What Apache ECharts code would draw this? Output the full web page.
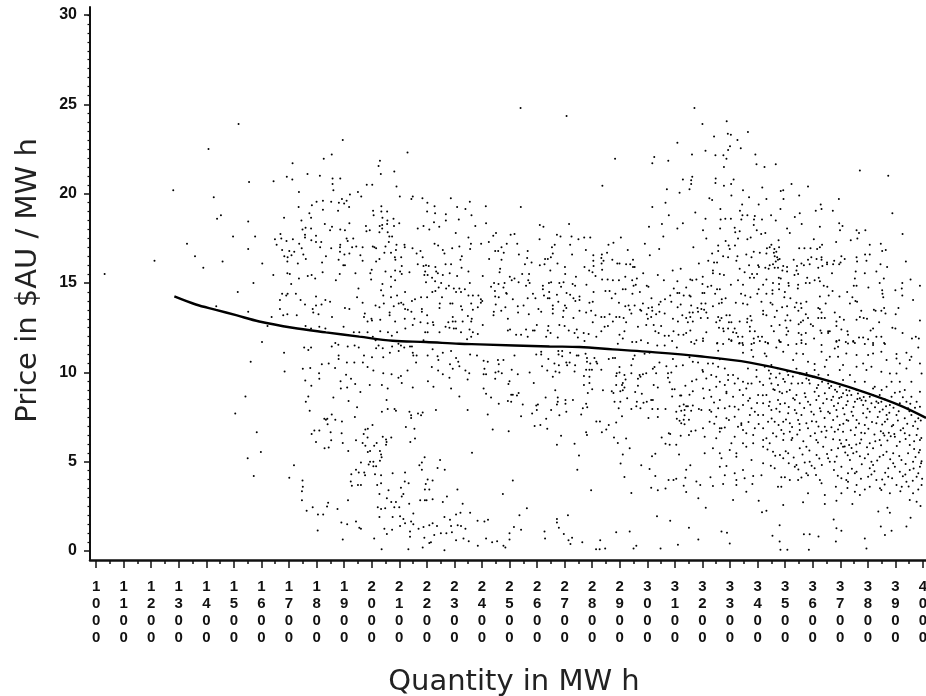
<!DOCTYPE html>
<html><head><meta charset="utf-8">
<style>html,body{margin:0;padding:0;background:#fff}#c{width:926px;height:696px}</style>
<script src="https://cdn.jsdelivr.net/npm/echarts@6/dist/echarts.min.js"></script>
</head><body><div id="c"></div>
<script>
const quantityTicks=[1000,1100,1200,1300,1400,1500,1600,1700,1800,1900,2000,2100,2200,2300,2400,2500,2600,2700,2800,2900,3000,3100,3200,3300,3400,3500,3600,3700,3800,3900,4000];
const quantityMinorTicks=[1050,1150,1250,1350,1450,1550,1650,1750,1850,1950,2050,2150,2250,2350,2450,2550,2650,2750,2850,2950,3050,3150,3250,3350,3450,3550,3650,3750,3850,3950];
const priceTicks=[0,5,10,15,20,25,30];
const priceMinorTicks=[0.5,1,1.5,2,2.5,3,3.5,4,4.5,5.5,6,6.5,7,7.5,8,8.5,9,9.5,10.5,11,11.5,12,12.5,13,13.5,14,14.5,15.5,16,16.5,17,17.5,18,18.5,19,19.5,20.5,21,21.5,22,22.5,23,23.5,24,24.5,25.5,26,26.5,27,27.5,28,28.5,29,29.5,30];
const fittedCurve=[[1284,14.25],[1362,13.8],[1435,13.5],[1508,13.2],[1592,12.85],[1713,12.5],[1834,12.24],[1955,12.0],[2076,11.77],[2197,11.7],[2318,11.6],[2391,11.57],[2645,11.45],[2754,11.42],[2875,11.29],[2996,11.16],[3190,10.9],[3372,10.55],[3553,9.95],[3674,9.45],[3795,8.85],[3916,8.15],[4011,7.45]];
const farLeftPoints=[[1517,23.9],[1408,22.5],[1280,20.2],[1555,20.65],[1427,19.8],[1439,18.6],[1453,18.8],[1552,18.45],[1497,17.6],[1577,17.6],[1330,17.2],[1552,16.9],[1359,16.5],[1212,16.25],[1459,16.2],[1389,15.85],[1031,15.5],[1571,15.0],[1514,14.5],[1436,13.7],[1552,13.4],[1561,10.6],[1542,8.65],[1505,7.7],[1583,6.65],[1550,5.2],[1572,4.2]];
const upperLeftPoints=[[1895,23.0],[2130,22.3],[1855,22.2],[1826,21.95],[2030,21.85],[1713,21.7],[2025,21.55],[2082,21.25],[1767,21.1],[2033,21.1],[1692,20.95],[1812,21],[1858,20.85],[1886,20.85],[1712,20.8],[1644,20.7],[1858,20.55],[1982,20.5],[2002,20.5],[2090,20.4],[1861,20.2],[1736,20.1],[1950,20.1],[1921,19.95],[1962,19.85],[2102,19.85],[2149,19.85],[2144,19.7],[2184,19.75],[2287,19.75],[1823,19.6],[1800,19.55],[1853,19.55],[1881,19.5],[1892,19.7],[1909,19.6],[1900,19.45],[2202,19.5],[2356,19.55],[1783,19.35],[1735,19.25],[1918,19.25],[2035,19.3],[2228,19.3],[2310,19.25],[2340,19.15],[1823,19.1],[1878,19.05],[2005,19.05],[2035,19.0],[2056,19.0],[2201,19.0],[1774,18.9],[2007,18.8],[2230,18.9],[2269,18.85],[2362,18.8],[1682,18.65],[1780,18.65],[2039,18.65],[2057,18.5],[2079,18.6],[1745,18.5],[2316,18.55],[2269,18.5],[2226,18.4],[1830,18.3],[1856,18.15],[1919,18.35],[2100,18.35],[1979,18.2],[2029,18.2],[2038,18.25],[2056,18.3],[2081,18.2],[2188,18.2],[2245,18.15],[2376,18.2],[1749,18.0],[1760,18.1],[1780,18.05],[1886,18],[1903,17.95],[2038,18.05],[2167,18.05],[2209,18],[1849,17.95],[1981,17.9],[1993,17.95],[2028,17.85],[2058,17.85],[2305,17.8],[1669,17.75],[1758,17.7],[1798,17.65],[2064,17.6],[2074,17.6],[2351,17.55],[1649,17.45],[1672,17.5],[1714,17.45],[1758,17.55],[1691,17.35],[1781,17.4],[1798,17.3],[1817,17.3],[1909,17.5],[1933,17.5],[1655,17.15],[1737,17.2],[1886,17.15],[1913,17.35],[2062,17.3],[2090,17.15],[2119,17.15],[2228,17.2],[2241,17.1],[2318,17.05],[2360,17.2],[1813,17.0],[1853,16.95],[1885,17.0],[1929,17.0],[1944,17.05],[1967,17.0],[2004,17.05],[2010,17.0],[2016,16.95],[2050,17.05],[2120,17],[2148,16.95],[2292,16.95],[2357,16.9],[1746,16.95],[1675,16.85],[1701,16.8],[1719,16.75],[2088,16.85],[2177,16.8],[2258,16.85],[1885,16.75],[2264,16.65],[1709,16.55],[1683,16.5],[1752,16.6],[1901,16.6],[1919,16.65],[1959,16.55],[2046,16.7],[2070,16.7],[2163,16.65],[1695,16.45],[1834,16.5],[2084,16.45],[2107,16.45],[2327,16.5],[1761,16.35],[1880,16.3],[1967,16.25],[2086,16.3],[2185,16.45],[2322,16.3],[2028,16.35],[2016,16.2],[1694,16.2],[1603,16.1],[1732,16.1],[1820,16.15],[1897,16.0],[1903,16.0],[2167,16.05],[2268,16.05],[2288,16.05],[2188,15.95],[2197,16],[2207,15.95],[2231,15.9],[2109,15.95],[2326,15.85],[2000,15.75],[2050,15.65],[2085,15.7],[2103,15.65],[2194,15.65],[2234,15.65],[2351,15.65],[1995,15.55],[1822,15.6],[1643,15.45],[1694,15.55],[1703,15.5],[1768,15.4],[1782,15.45],[1884,15.5],[1941,15.55],[2109,15.5],[2137,15.6],[2191,15.45],[2203,15.45],[2240,15.55],[2283,15.55],[2070,15.35],[2219,15.3],[2258,15.45],[2310,15.4],[1736,15.25],[1795,15.25],[1870,15.15],[1998,15.2],[2085,15.15],[2197,15.05],[2230,15.1],[2356,15.0],[1708,14.95],[2039,14.95],[2252,15],[2070,14.8],[2243,14.75],[2280,14.85],[2298,14.7],[2318,14.7],[2270,14.7],[1952,14.7],[2338,14.65],[2034,14.6],[2121,14.5],[2220,14.5],[2231,14.55],[2306,14.5],[2324,14.5],[1675,14.4],[1695,14.4],[1690,14.3],[1725,14.4],[2042,14.3],[2092,14.3],[2351,14.3],[2367,14.3],[2387,14.3],[1798,14.25],[2070,14.2],[1947,14.2],[2179,14.2],[2201,14.2],[2255,14.2],[1667,14.05],[1742,14.05],[1832,14.05],[1849,13.95],[2157,14.1],[2146,14],[2107,13.9],[1967,13.9],[2115,13.8],[1758,13.8],[1818,13.8],[1798,13.75],[2014,13.75],[2044,13.85],[2098,13.85],[2080,13.7],[2247,13.85],[2285,13.85],[2293,13.85],[2361,13.85],[2324,13.7],[1667,13.55],[1786,13.55],[1903,13.6],[1919,13.55],[2028,13.65],[2121,13.55],[2131,13.5],[2144,13.4],[2182,13.55],[2182,13.4],[2246,13.6],[2328,13.5],[2367,13.5],[2385,13.65],[1694,13.25],[1728,13.2],[1679,13.2],[1788,13.35],[1807,13.25],[2065,13.35],[2065,13.2],[1975,13.3],[1637,13.1],[1856,13.1],[1972,13.1],[2201,13.2],[2294,13.1],[2349,13.15],[2363,13.0],[2120,13.0],[2155,13],[1999,13],[2031,12.95],[1985,12.85],[2001,12.9],[2085,12.85],[2177,12.8],[2203,12.75],[2222,12.8],[2278,12.8],[2294,12.85],[2304,12.85],[2330,12.85],[2361,12.85],[1622,12.6],[1760,12.6],[1810,12.55],[1898,12.55],[1780,12.45],[1832,12.45],[2122,12.45],[2149,12.65],[2224,12.65],[2268,12.55],[2282,12.5],[2298,12.45],[2306,12.45],[2355,12.4],[1955,12.25],[1935,12.25],[1985,12.25],[2031,12.3],[2059,12.25],[2092,12.25],[2194,12.25],[2203,12.25],[2246,12.25],[2324,12.25],[2367,12.25],[2385,12.15],[2004,12],[2073,12.05],[2361,12.0],[2346,11.85],[1602,11.7],[2014,11.8],[2188,11.8]];
const lowerLeftPoints=[[1682,11.1],[1755,11.4],[1770,11.25],[1780,11.4],[1855,11.45],[1868,11.65],[1879,11.55],[1913,11.45],[1938,11.5],[1953,11.4],[2016,11.35],[2025,11.5],[2040,11.35],[2074,11.45],[2097,11.6],[2106,11.5],[2118,11.4],[2139,11.45],[2146,11.45],[2066,11.1],[2098,11.2],[2149,11.1],[2203,10.95],[2221,11.3],[2258,11.1],[2288,11.2],[1880,10.95],[1880,10.75],[1972,10.95],[2001,10.85],[2042,10.85],[2151,10.95],[2163,10.95],[2239,10.9],[2242,10.7],[2306,10.8],[2357,11],[2382,10.95],[2161,10.55],[1910,10.55],[1937,10.55],[1968,10.55],[1819,10.45],[1844,10.5],[2284,10.45],[2314,10.6],[2318,10.35],[2218,10.3],[1750,10.2],[1777,10.25],[1867,10.25],[1985,10.3],[2294,10.2],[2130,10.1],[2241,10.1],[2006,10.1],[2340,10.1],[1684,10.05],[1809,9.95],[2042,9.95],[2072,9.9],[2106,9.8],[2258,9.9],[2354,9.95],[1907,9.87],[1810,9.65],[2097,9.7],[2282,9.7],[2348,9.6],[1759,9.55],[1887,9.5],[1925,9.65],[2204,9.5],[1940,9.35],[1781,9.25],[1993,9.3],[2109,9.4],[2037,9.3],[2224,9.2],[1888,9.1],[1911,9.15],[2058,9.1],[2149,9.15],[2288,9.1],[1959,8.9],[2318,8.65],[1770,8.65],[1861,8.6],[1761,8.35],[1916,8.4],[2054,8.45],[1947,8.05],[2058,7.95],[1775,7.85],[2083,7.95],[2088,7.85],[2037,7.8],[2233,7.9],[2348,7.9],[2137,7.8],[2168,7.7],[2185,7.75],[2143,7.6],[2179,7.6],[1855,7.65],[1939,7.5],[1828,7.4],[1839,7.4],[1834,7.35],[2143,7.45],[1868,7.35],[1892,7.25],[1840,7.1],[2003,7.05],[2124,6.95],[1986,6.85],[1977,6.8],[2155,6.85],[1792,6.75],[1810,6.75],[1971,6.55],[1782,6.55],[1851,6.65],[1891,6.6],[1985,6.35],[2040,6.4],[2071,6.35],[2052,6.25],[1853,6.2],[1943,6.2],[2054,6.1],[2157,6.3],[2140,6.1],[1798,6.1],[1895,6.05],[1967,6.05],[2018,6.05],[1977,5.9],[2009,5.9],[1829,5.75],[1844,5.8],[1915,5.6],[1994,5.6],[1986,5.55],[2030,5.6],[2052,5.95],[1598,5.55],[2364,5.5],[2034,5.4],[2036,5.25],[2192,5.25],[2248,5.1],[2030,5.05],[1961,4.95],[1994,5],[2006,5],[2182,4.95],[1989,4.85],[2173,4.8],[1718,4.8],[2006,4.75],[2016,4.75],[1943,4.55],[1953,4.4],[1973,4.4],[1926,4.3],[1976,4.25],[2012,4.3],[2034,4.25],[2076,4.35],[2121,4.4],[2182,4.55],[2239,4.65],[2265,4.55],[1701,4.1],[1749,3.95],[1924,3.9],[2120,3.9],[2134,3.8],[2203,4],[2221,3.95],[1950,3.7],[1961,3.7],[1928,3.65],[2020,3.7],[2034,3.8],[2196,3.75],[1750,3.6],[2061,3.4],[2106,3.55],[2193,3.45],[2209,3.45],[2311,3.45],[1747,3.35],[2028,3.2],[2115,3.2],[2273,3.05],[2109,3.05],[2055,2.95],[2176,2.85],[2193,2.85],[2199,2.85],[2221,2.9],[1747,2.85],[1914,2.85],[2071,2.75],[2088,2.75],[1842,2.7],[2136,2.65],[2258,2.75],[2330,2.65],[1786,2.45],[1838,2.5],[2022,2.45],[2034,2.35],[2049,2.4],[2082,2.45],[2100,2.45],[1876,2.35],[1764,2.25],[2151,2.1],[2357,2.15],[2322,2.15],[2306,2.05],[1805,2.05],[1824,2.05],[2103,1.95],[2264,1.9],[2028,1.9],[2076,1.9],[2115,1.8],[2284,1.75],[2384,1.7],[1890,1.6],[1943,1.65],[1911,1.5],[2143,1.65],[2151,1.5],[2121,1.55],[2221,1.55],[2209,1.45],[2237,1.4],[2188,1.35],[2103,1.4],[2288,1.4],[2312,1.45],[2324,1.4],[1955,1.3],[1961,1.25],[1804,1.15],[2046,1.25],[2074,1.2],[2170,1.25],[2340,1.25],[2139,1.1],[2055,0.95],[2251,1],[2271,1],[2227,0.9],[2291,1.05],[2139,0.8],[2191,0.75],[2009,0.7],[1895,0.65],[2306,0.6],[2333,0.7],[2352,0.55],[2215,0.5],[2209,0.45],[2385,0.3],[2036,0.1],[2133,0.1],[2185,0.2],[2264,0.05]];
const upperMiddlePoints=[[2540,24.8],[2707,24.35],[3171,24.8],[3109,22.85],[3162,22.2],[3025,22.05],[2883,21.95],[3018,21.7],[3076,21.85],[3129,20.8],[3163,20.95],[3159,20.75],[3159,20.55],[2837,20.45],[3071,20.25],[3153,20.25],[3117,20.05],[3066,19.5],[2414,19.3],[2541,19.25],[3018,19.25],[3174,18.95],[3078,18.8],[2415,18.35],[2716,18.3],[3053,18.3],[3129,18.35],[2610,18.25],[2623,18.15],[3006,18.15],[3109,18.05],[2451,17.8],[2441,17.65],[2504,17.7],[2518,17.75],[2672,17.7],[2685,17.6],[2725,17.6],[2771,17.55],[2793,17.55],[2904,17.55],[3058,17.6],[2609,17.45],[2750,17.45],[2425,17.3],[2397,17.2],[2490,17.2],[2528,17.2],[2720,17.15],[2664,17.15],[2877,17.25],[2859,17.15],[2991,17.2],[3167,17],[2471,17],[2654,17],[2448,16.8],[2459,16.8],[2566,16.8],[2777,16.85],[2929,16.85],[3043,16.9],[2479,16.7],[2657,16.65],[2534,16.6],[2727,16.6],[2804,16.55],[2835,16.6],[2854,16.7],[3009,16.55],[2426,16.35],[2471,16.3],[2564,16.4],[2629,16.35],[2639,16.35],[2650,16.45],[2833,16.4],[2841,16.25],[2804,16.25],[2873,16.3],[2948,16.3],[2580,16.15],[2556,16.05],[2610,16],[2627,16.05],[2674,16.1],[2834,16.1],[2891,16.1],[2899,16.1],[2923,16.05],[2938,16.05],[3187,16.1],[2701,15.9],[2772,15.9],[2805,15.95],[2948,15.9],[2954,15.9],[2466,15.8],[2648,15.7],[2789,15.7],[2836,15.75],[3121,15.8],[2464,15.6],[2546,15.5],[2571,15.5],[2702,15.5],[2801,15.6],[2985,15.55],[3092,15.7],[3038,15.45],[2403,15.4],[2501,15.35],[2741,15.35],[2812,15.4],[2518,15.25],[2568,15.15],[2508,15.15],[2836,15.2],[2856,15.2],[2875,15.15],[2897,15.15],[2920,15.35],[2945,15.15],[2962,15.25],[3060,15.15],[3109,15.1],[3156,15.2],[3163,15.15],[3178,15.2],[2444,15],[2460,14.95],[2533,15.05],[2573,15],[2482,15],[2651,15.05],[2643,15],[2681,15],[2696,15.05],[2729,14.95],[2779,14.9],[2738,14.85],[2560,14.85],[2621,14.85],[2958,14.9],[2950,14.85],[2998,14.85],[3004,14.8],[2687,14.8],[2433,14.8],[2478,14.75],[2621,14.65],[2911,14.65],[2921,14.65],[3096,14.7],[3141,14.75],[2447,14.55],[2488,14.45],[2848,14.55],[2863,14.55],[2805,14.5],[2973,14.5],[3109,14.45],[3116,14.45],[2644,14.5],[2585,14.4],[2672,14.35],[2707,14.45],[2720,14.35],[2490,14.4],[2884,14.4],[2946,14.4],[3083,14.3],[3132,14.3],[3153,14.3],[2448,14.25],[2461,14.2],[2512,14.1],[2566,14.15],[2594,14.15],[2625,14.3],[2639,14.15],[2645,14.15],[2732,14.15],[2754,14.25],[2871,14.15],[3015,14.15],[3064,14.1],[3157,14.25],[2396,14.1],[2396,13.9],[2401,14],[2739,14],[2754,14.05],[2677,13.95],[2790,13.9],[2802,13.95],[2897,13.9],[2984,13.85],[3048,13.95],[3087,13.95],[2450,13.8],[2530,13.7],[2551,13.75],[2657,13.75],[2701,13.75],[2954,13.75],[3017,13.65],[3042,13.8],[3159,13.75],[3121,13.8],[3110,13.65],[2605,13.55],[2657,13.55],[2920,13.7],[2932,13.75],[2706,13.6],[2936,13.5],[2974,13.5],[3004,13.6],[2485,13.65],[2754,13.45],[2796,13.45],[2443,13.4],[2470,13.45],[2531,13.35],[2615,13.4],[2696,13.45],[3165,13.35],[3153,13.35],[3182,13.6],[3184,13.4],[3018,13.45],[3044,13.4],[2442,13.2],[2570,13.25],[2657,13.3],[2778,13.35],[2812,13.2],[2863,13.25],[2942,13.3],[2978,13.45],[2998,13.25],[3014,13.1],[3032,13.25],[3063,13.3],[3127,13.2],[2694,13.1],[2732,13.05],[2833,13.1],[2845,13.1],[2887,13.1],[2899,13.1],[2914,13.05],[2494,13],[3002,13],[3093,13],[3141,13.05],[3156,13.1]];
const lowerMiddlePoints=[[2403,12.65],[2494,12.35],[2502,12.4],[2542,12.1],[2524,12.1],[2560,12.4],[2566,12],[2591,12.35],[2599,12.65],[2585,12.35],[2641,12.6],[2639,12.35],[2649,12.2],[2633,12],[2681,12.65],[2700,12.6],[2715,12.35],[2744,12.4],[2736,12.2],[2769,12.2],[2787,12.15],[2748,11.95],[2675,11.95],[2772,11.75],[2802,12.8],[2857,12.6],[2845,12.55],[2833,12.3],[2815,12],[2875,12.85],[2923,12.8],[2966,12.55],[2917,12.3],[2899,12.1],[2911,11.9],[2893,11.6],[2945,11.7],[2960,11.7],[2977,11.8],[3002,11.65],[2996,12.65],[3023,12.65],[3050,12.6],[3029,12.3],[3041,12.2],[3063,12.05],[3078,12.05],[3095,12.3],[3113,12.1],[3131,12.1],[3090,11.75],[3141,12.2],[3156,12.35],[3147,12.8],[3165,12.85],[3111,12.85],[3178,11.8],[3159,11.7],[3036,11.5],[3063,11.5],[3107,11.4],[3171,11.6],[2615,11.15],[2597,11],[2615,11],[2518,10.95],[2677,11.2],[2691,11.2],[2678,11],[2691,10.9],[2720,11.1],[2744,10.95],[2750,10.95],[2776,11.05],[2990,11.05],[3008,11.1],[2954,10.95],[2875,10.8],[2883,10.8],[2860,10.75],[2781,10.8],[2808,10.8],[2641,10.75],[2406,10.65],[2421,10.6],[2458,10.7],[2478,10.7],[2948,10.75],[3093,10.75],[3153,10.85],[3165,10.6],[3184,10.55],[2461,10.45],[2618,10.35],[2663,10.5],[2679,10.4],[2706,10.55],[2718,10.55],[2709,10.4],[2738,10.4],[2781,10.6],[2793,10.5],[2815,10.6],[2818,10.5],[2942,10.4],[3044,10.55],[3069,10.35],[3105,10.35],[3129,10.4],[3026,10.3],[3020,10.2],[2409,10.2],[2508,10.15],[2637,10.1],[2667,10.05],[2681,10],[2736,10.05],[2778,10.15],[2790,10.15],[2799,10.15],[2833,10.15],[2899,10.3],[2449,10],[2460,10.05],[2472,9.95],[2530,9.9],[2573,10],[2406,9.9],[2415,9.9],[2889,9.95],[2899,10],[2887,9.8],[2917,9.85],[2942,9.95],[2972,9.85],[2996,9.95],[2984,9.9],[3032,9.95],[3075,9.95],[3087,10],[3075,9.7],[2657,9.75],[2790,9.75],[2770,9.8],[2966,9.65],[2975,9.75],[2448,9.65],[2500,9.5],[2921,9.6],[2911,9.4],[2908,9.3],[2887,9.3],[3081,9.45],[3162,9.5],[3178,9.6],[2588,9.4],[2790,9.4],[2496,9.35],[2770,9.3],[3023,9.3],[3038,9.15],[3138,9.25],[2966,9.25],[2406,9.1],[2800,9.05],[2917,9.15],[2839,9],[2871,8.95],[2911,9],[2902,8.95],[3090,9.05],[3099,9.05],[2666,9],[3165,8.95],[2784,8.85],[2877,8.85],[2956,8.9],[2980,8.8],[2415,8.8],[2533,8.85],[2506,8.75],[2512,8.75],[2527,8.7],[3153,8.75],[3090,8.65],[3119,8.7],[3123,8.7],[2433,8.6],[2631,8.6],[2675,8.6],[2927,8.55],[3014,8.45],[3020,8.45],[2494,8.4],[2506,8.35],[2703,8.45],[2730,8.45],[2675,8.35],[2703,8.25],[2881,8.35],[2902,8.35],[2461,8.25],[2778,8.25],[2962,8.35],[2986,8.3],[2998,8.35],[2672,8.2],[2548,8.2],[2603,8.2],[2597,8.15],[2960,8.1],[3117,8.1],[3132,8.2],[3141,8.1],[3147,8.1],[3165,8.15],[2782,8.05],[2766,8],[2599,7.9],[2651,7.9],[2706,7.8],[2896,8],[2942,7.95],[2975,8],[3018,7.95],[3038,7.95],[3066,7.95],[3105,7.8],[3123,7.85],[3135,7.9],[3159,7.85],[3187,7.95],[2421,7.65],[2582,7.7],[2681,7.6],[2760,7.65],[2908,7.55],[2542,7.55],[3135,7.6],[2633,7.4],[3004,7.45],[3038,7.5],[3107,7.4],[3117,7.3],[3132,7.35],[3151,7.35],[2815,7.25],[2828,7.25],[2887,7.2],[3123,7.15],[3135,7.1],[2591,7],[2612,7.05],[2860,7.05],[2637,6.85],[2851,6.8],[2439,6.8],[2497,6.7],[2778,6.65],[2835,6.65],[3159,6.7],[3175,6.75],[3078,6.6],[3083,6.55],[2781,6.5],[2687,6.45],[3121,6.45],[3151,6.5],[2879,6.35],[2923,6.3],[3052,6.35],[2672,5.95],[2736,6],[2893,6.05],[3066,6],[3081,5.95],[3105,5.95],[2936,5.75],[2911,5.4],[2752,5.35],[3115,5.4],[3017,5.3],[3029,5.45],[2903,4.9],[2978,4.8],[3156,4.8],[2746,4.55],[3008,4.6],[3141,4.55],[2917,4.15],[3029,4.2],[3138,4.1],[2512,3.95],[3077,3.98],[3095,3.98],[3105,4.05],[3178,3.9],[3132,3.65],[2796,3.4],[3014,3.55],[3038,3.4],[3066,3.5],[2476,3.2],[2942,3.25],[3141,3.3],[3185,2.95],[2563,2.4],[2712,2],[2536,2],[3035,1.95],[2672,1.8],[2409,1.65],[2422,1.75],[2672,1.6],[3083,1.7],[2516,1.35],[2542,1.2],[2679,1.3],[3151,1.3],[2500,1],[2627,1.1],[2697,0.95],[2887,1.05],[2936,1.1],[2415,0.7],[2500,0.65],[2629,0.7],[2714,0.6],[2727,0.75],[2829,0.6],[3185,0.65],[2437,0.5],[2455,0.55],[2721,0.4],[2764,0.5],[3111,0.35],[2478,0.3],[2485,0.2],[2814,0.1],[2827,0.1],[2847,0.15],[2950,0.15],[2960,0.3],[3048,0.15]];
const upperRightPoints=[[3288,24.05],[3200,23.9],[3365,23.45],[3242,23.2],[3292,23.35],[3303,23.3],[3327,23],[3300,22.65],[3293,22.45],[3339,22.55],[3211,22.4],[3247,22.15],[3276,22.15],[3287,21.95],[3392,22.2],[3396,21.65],[3466,21.65],[3425,21.5],[3278,21.5],[3771,21.3],[3874,21],[3248,20.85],[3247,20.6],[3313,20.8],[3304,20.55],[3278,20.45],[3523,20.55],[3417,20.35],[3583,20.4],[3347,20.2],[3484,20.15],[3493,20.2],[3305,19.9],[3551,19.9],[3369,19.8],[3225,19.75],[3235,19.65],[3432,19.7],[3494,19.7],[3695,19.7],[3344,19.4],[3404,19.4],[3629,19.4],[3265,19.15],[3483,19.15],[3632,19.15],[3336,19.05],[3611,19.05],[3673,19.05],[3553,18.9],[3889,18.9],[3345,18.8],[3363,18.8],[3449,18.8],[3535,18.7],[3390,18.75],[3211,18.6],[3266,18.55],[3283,18.6],[3303,18.6],[3341,18.55],[3387,18.55],[3416,18.55],[3466,18.5],[3386,18.25],[3560,18.3],[3696,18.35],[3708,18.2],[3202,17.95],[3264,18.05],[3317,18.1],[3319,17.85],[3335,17.9],[3397,17.95],[3507,18.05],[3626,18.15],[3699,17.95],[3759,17.95],[3791,17.95],[3517,17.8],[3413,17.75],[3428,17.8],[3768,17.8],[3214,17.5],[3329,17.5],[3375,17.55],[3363,17.45],[3604,17.45],[3762,17.5],[3738,17.4],[3926,17.75],[3284,17.35],[3476,17.4],[3685,17.3],[3807,17.15],[3847,17.2],[3257,17.1],[3318,17.1],[3295,17.1],[3450,17.15],[3434,16.95],[3478,17],[3551,16.95],[3570,16.95],[3592,16.95],[3626,17],[3634,17.15],[3616,16.9],[3461,16.9],[3444,17],[3299,16.9],[3257,16.8],[3235,16.65],[3386,16.75],[3408,16.7],[3359,16.6],[3432,16.65],[3459,16.7],[3468,16.75],[3852,16.8],[3865,16.85],[3275,16.5],[3293,16.45],[3327,16.5],[3378,16.45],[3462,16.5],[3471,16.45],[3790,16.6],[3807,16.6],[3632,16.45],[3614,16.35],[3595,16.45],[3221,16.25],[3323,16.25],[3480,16.35],[3531,16.3],[3583,16.3],[3632,16.3],[3704,16.5],[3716,16.35],[3678,16.25],[3759,16.45],[3761,16.2],[3795,16.25],[3938,16.2],[3242,16.15],[3253,16.15],[3466,16.2],[3474,16.3],[3559,16.1],[3568,16],[3589,16.05],[3652,16.15],[3652,16.05],[3674,16.05],[3696,16.05],[3701,16.15],[3846,16.05],[3870,15.9],[3369,16],[3402,16],[3405,15.9],[3444,16],[3456,16.05],[3462,15.85],[3474,15.85],[3493,15.95],[3543,15.95],[3620,15.85],[3635,15.95],[3335,15.8],[3428,15.85],[3440,15.8],[3507,15.9],[3238,15.7],[3238,15.55],[3353,15.6],[3490,15.7],[3507,15.65],[3541,15.7],[3547,15.5],[3670,15.55],[3756,15.65],[3789,15.55],[3831,15.65],[3201,15.35],[3263,15.5],[3278,15.45],[3380,15.5],[3387,15.3],[3372,15.3],[3398,15.5],[3534,15.45],[3753,15.25],[3477,15.3],[3484,15.25],[3580,15.3],[3622,15.3],[3955,15.2],[3329,15.15],[3432,15.2],[3607,15.15],[3858,15.25],[3512,15],[3456,15],[3575,15],[3589,15],[3626,15.1],[3843,15],[3925,15],[3200,14.95],[3219,14.8],[3232,14.85],[3303,14.9],[3347,14.9],[3420,14.9],[3478,14.95],[3513,14.85],[3547,14.9],[3640,14.85],[3653,14.8],[3749,14.85],[3759,14.85],[3989,14.85],[3404,14.65],[3253,14.65],[3263,14.65],[3454,14.6],[3478,14.65],[3546,14.7],[3802,14.75],[3900,14.6],[3923,14.7],[3200,14.45],[3207,14.45],[3246,14.4],[3340,14.4],[3399,14.4],[3432,14.4],[3454,14.4],[3499,14.5],[3672,14.55],[3725,14.5],[3852,14.6],[3925,14.3],[3355,14.3],[3374,14.2],[3497,14.2],[3519,14.15],[3626,14.25],[3658,14.3],[3697,14.25],[3744,14.2],[3853,14.4],[3856,14.2],[3284,14.15],[3270,14.1],[3414,13.95],[3577,13.95],[3755,14],[3964,14.05],[3196,13.85],[3211,13.85],[3260,13.85],[3321,13.9],[3347,13.85],[3363,13.8],[3447,13.9],[3541,13.9],[3557,13.85],[3647,13.85],[3761,13.95],[3735,13.85],[3454,13.8],[3270,13.9],[3238,13.7],[3489,13.65],[3507,13.7],[3535,13.65],[3559,13.6],[3620,13.6],[3626,13.55],[3859,13.6],[3196,13.55],[3206,13.5],[3420,13.45],[3470,13.45],[3548,13.45],[3776,13.45],[3822,13.5],[3828,13.45],[3849,13.45],[3911,13.6],[3680,13.35],[3632,13.35],[3214,13.35],[3420,13.25],[3432,13.2],[3575,13.25],[3287,13.2],[3299,13.2],[3374,13.15],[3508,13.2],[3864,13.3],[3901,13.25],[3194,13.05],[3219,13.05],[3257,13.1],[3269,13.05],[3363,13],[3462,13.1],[3620,13.05],[3632,13.05],[3644,13.05],[3698,13.1],[3713,12.95],[3759,12.95],[3771,13.1],[3785,13.05],[3797,13],[3263,12.9],[3250,12.8],[3335,12.85],[3362,12.8],[3378,12.9],[3501,12.9],[3519,12.9],[3565,12.9],[3583,13.05],[3686,12.85],[3841,12.8],[3989,12.9],[3296,12.8],[3305,12.8],[3549,12.7],[3557,12.8],[3593,12.7],[3601,12.6],[3450,12.6],[3480,12.65],[3505,12.5],[3686,12.6],[3275,12.45],[3293,12.45],[3317,12.45],[3372,12.55],[3260,12.5],[3819,12.45],[3889,12.5],[3900,12.45],[3628,12.35],[3656,12.3],[3662,12.3],[3704,12.4],[3810,12.35],[3214,12.25],[3277,12.3],[3311,12.25],[3372,12.3],[3390,12.3],[3459,12.3],[3511,12.3],[3549,12.2],[3575,12.2],[3632,12.2],[3656,12.2],[3726,12.3],[3926,12.2],[3323,12.2],[3329,12],[3505,12.1],[3386,11.9],[3402,12],[3416,12],[3559,12.1],[3728,12.1],[3783,11.95],[3831,12],[3849,12],[3960,11.9],[3974,12],[3985,11.9],[3202,11.9],[3296,11.85],[3305,11.8],[3345,12],[3478,11.8],[3559,11.8],[3605,11.9],[3686,11.75],[3696,11.8],[3720,11.7],[3747,11.75],[3768,11.95],[3801,11.85],[3202,11.75],[3254,11.65],[3335,11.65],[3345,11.65],[3387,11.65],[3428,11.7],[3437,11.65],[3484,11.7],[3559,11.65],[3753,11.65],[3819,11.65],[3859,11.65]];
const lowerRightPoints=[[3253,11.62],[3275,11.59],[3305,11.75],[3333,11.62],[3347,11.53],[3378,11.59],[3408,11.75],[3438,11.62],[3480,11.72],[3511,11.53],[3541,11.59],[3575,11.59],[3632,11.53],[3686,11.72],[3692,11.44],[3728,11.62],[3747,11.72],[3789,11.59],[3819,11.53],[3862,11.59],[3983,11.4],[3257,11.21],[3347,11.1],[3378,11.25],[3426,11.06],[3468,11.4],[3493,11.16],[3541,11.06],[3565,11.03],[3632,11.16],[3662,10.88],[3680,11.34],[3722,11.06],[3759,10.97],[3801,10.97],[3819,11.06],[3849,11.16],[3904,11.03],[3940,11.1],[3958,10.88],[3263,10.73],[3384,10.88],[3432,10.91],[3529,10.69],[3583,10.6],[3607,10.47],[3650,10.69],[3692,10.88],[3710,10.41],[3759,10.32],[3783,10.5],[3813,10.32],[3868,10.69],[3904,10.78],[3916,10.5],[3952,10.69],[3989,10.5],[3607,10.13],[3644,10.32],[3698,10.13],[3735,9.85],[3795,10.13],[3849,10.04],[3880,9.94],[3904,9.94],[3940,10.22],[3995,9.94],[3601,9.76],[3656,9.85],[3710,9.57],[3753,9.48],[3789,9.48],[3825,9.2],[3868,9.2],[3886,9.48],[3916,9.48],[3958,9.48],[3819,9.1],[3850,9.01],[3916,8.92],[3934,9.01],[3958,8.64],[3989,8.92],[3886,8.64],[3940,8.36],[3977,8.36],[3989,8.08],[3200,10.13],[3220,10.5],[3238,10.5],[3257,10.32],[3281,10.22],[3293,9.85],[3329,9.66],[3365,10.22],[3396,10.13],[3426,10.32],[3450,10.41],[3202,10.04],[3232,9.85],[3250,9.76],[3214,9.66],[3263,9.48],[3293,9.57],[3311,9.85],[3347,9.48],[3365,9.38],[3396,9.76],[3408,9.48],[3444,9.66],[3480,9.94],[3511,9.85],[3553,9.94],[3577,9.66],[3607,9.76],[3202,9.1],[3226,9.01],[3250,9.2],[3281,9.29],[3287,8.92],[3317,9.38],[3335,9.01],[3359,9.1],[3378,9.38],[3420,9.29],[3450,9.38],[3474,9.29],[3499,9.48],[3523,9.38],[3547,9.38],[3589,9.38],[3620,9.29],[3656,9.38],[3698,9.2],[3722,9.01],[3759,9.01],[3205,8.55],[3232,8.64],[3263,8.45],[3287,8.83],[3311,8.64],[3347,8.73],[3372,8.55],[3402,8.73],[3432,8.73],[3462,9.01],[3480,8.92],[3517,9.01],[3541,8.73],[3571,8.83],[3607,8.92],[3644,8.83],[3674,8.64],[3710,8.83],[3740,8.73],[3771,8.55],[3807,8.64],[3843,8.73],[3196,7.89],[3226,7.89],[3257,7.99],[3281,7.99],[3317,8.08],[3347,8.17],[3378,7.99],[3390,7.8],[3420,8.27],[3444,8.36],[3474,8.45],[3499,8.27],[3529,8.55],[3553,8.27],[3583,8.36],[3613,8.45],[3638,8.27],[3668,8.45],[3692,8.27],[3722,8.17],[3753,8.36],[3783,8.17],[3813,8.27],[3849,8.36],[3880,8.17],[3916,8.27],[3946,7.99],[3232,7.8],[3250,7.52],[3287,7.43],[3317,7.52],[3341,7.15],[3372,7.61],[3402,7.61],[3420,7.61],[3450,7.89],[3480,7.8],[3511,7.71],[3535,7.89],[3559,7.61],[3595,7.8],[3626,7.99],[3656,7.8],[3686,7.89],[3710,7.99],[3741,7.8],[3783,7.71],[3807,7.8],[3843,7.8],[3868,7.61],[3904,7.61],[3934,7.43],[3958,7.61],[3983,7.43],[3202,6.87],[3226,7.24],[3263,6.87],[3281,6.92],[3341,7.06],[3347,6.78],[3390,6.87],[3420,6.87],[3438,7.24],[3462,7.24],[3493,7.24],[3517,7.15],[3547,7.33],[3577,7.15],[3613,7.24],[3644,6.96],[3674,7.33],[3698,7.06],[3723,7.33],[3759,7.33],[3789,7.06],[3831,7.15],[3862,7.24],[3892,7.06],[3928,6.87],[3964,7.0],[3208,6.4],[3263,6.68],[3269,6.87],[3317,6.4],[3359,6.59],[3384,6.5],[3432,6.31],[3456,6.59],[3486,6.78],[3517,6.68],[3553,6.78],[3608,6.59],[3632,6.68],[3680,6.68],[3710,6.68],[3753,6.5],[3789,6.59],[3856,6.59],[3898,6.4],[3934,6.59],[3977,6.5],[3250,6.31],[3305,6.03],[3347,6.03],[3384,6.03],[3420,6.22],[3444,6.03],[3493,6.22],[3523,6.22],[3577,5.84],[3613,6.22],[3638,5.84],[3698,6.22],[3722,6.22],[3771,6.03],[3807,6.03],[3843,6.22],[3916,6.12],[3952,5.94],[3989,6.22],[3208,5.47],[3238,5.75],[3263,5.47],[3299,5.66],[3323,5.47],[3359,5.84],[3420,5.84],[3456,5.56],[3481,5.38],[3511,5.47],[3553,5.75],[3614,5.38],[3668,5.66],[3692,5.75],[3710,5.84],[3747,5.47],[3759,5.56],[3819,5.75],[3868,5.56],[3892,5.47],[3946,5.47],[3989,5.66],[3269,5.19],[3323,5.28],[3378,5.1],[3420,4.91],[3493,5.19],[3541,4.82],[3571,4.95],[3589,5.0],[3656,5.19],[3680,5.0],[3735,5.1],[3789,5.19],[3813,5.0],[3843,5.28],[3892,4.91],[3922,5.1],[3964,5],[3263,4.72],[3287,4.76],[3347,4.54],[3462,4.63],[3535,4.72],[3607,4.63],[3662,5.0],[3704,4.72],[3728,4.35],[3759,4.44],[3807,4.63],[3819,4.82],[3874,4.63],[3916,4.44],[3952,4.54],[3983,4.35],[3989,4.72],[3229,4.13],[3281,4.25],[3317,4.35],[3323,3.98],[3353,4.07],[3414,4.25],[3384,4.2],[3486,4.13],[3499,4.13],[3517,3.98],[3547,3.98],[3577,4.35],[3583,4.25],[3626,3.98],[3704,4.07],[3722,3.98],[3753,4.35],[3801,4.16],[3831,3.98],[3874,4.16],[3940,3.88],[3977,4.16],[3192,3.7],[3238,3.64],[3275,3.75],[3323,3.7],[3359,3.32],[3381,3.75],[3474,3.6],[3486,3.6],[3632,3.79],[3684,3.6],[3728,3.88],[3759,3.7],[3807,3.6],[3844,3.51],[3904,3.7],[3923,3.6],[3995,3.7],[3583,3.23],[3644,3.14],[3704,3.23],[3753,3.32],[3771,3.14],[3849,3.42],[3880,3.23],[3964,3.23],[3311,2.86],[3404,2.82],[3565,2.73],[3644,2.63],[3686,2.82],[3744,2.63],[3952,2.86],[3977,2.76],[3212,2.43],[3493,2.58],[3871,2.43],[3991,2.52],[3416,2.17],[3432,2.26],[3838,2.21],[3880,2.15],[3676,1.77],[3480,1.44],[3955,1.87],[3686,1.27],[3704,1.14],[3847,1.37],[3886,1.14],[3269,1.09],[3289,1.03],[3454,0.86],[3568,0.94],[3589,0.94],[3621,0.81],[3789,0.7],[3862,0.9],[3940,1.37],[3299,0.43],[3480,0.54],[3684,0.53],[3483,0.08],[3508,0.08],[3586,0.08],[3795,0.15]];
const denseClusterPoints=[[3448,9.92],[3467,9.71],[3493,9.63],[3528,9.77],[3562,9.41],[3586,9.58],[3615,9.12],[3634,9.47],[3667,9.24],[3681,9.03],[3704,8.62],[3733,8.97],[3764,8.82],[3792,8.41],[3819,8.73],[3838,8.28],[3861,8.49],[3893,8.02],[3912,7.83],[3457,9.05],[3489,8.83],[3506,8.91],[3535,8.47],[3574,8.62],[3591,8.19],[3622,8.68],[3651,8.51],[3677,8.12],[3696,8.57],[3727,8.38],[3748,8.07],[3777,8.44],[3799,7.97],[3826,8.05],[3854,7.92],[3878,7.74],[3441,8.12],[3468,7.97],[3482,8.23],[3513,8.06],[3541,7.72],[3569,8.01],[3604,7.64],[3629,7.83],[3643,7.45],[3662,7.71],[3689,7.53],[3715,7.66],[3729,7.29],[3746,7.58],[3768,7.14],[3795,7.47],[3815,7.22],[3836,7.51],[3852,7.09],[3871,7.38],[3887,6.98],[3909,7.31],[3943,7.12],[3972,7.25],[3451,7.42],[3476,7.05],[3503,7.36],[3525,6.94],[3552,7.11],[3583,6.88],[3597,7.27],[3621,6.97],[3650,6.74],[3668,6.93],[3692,6.81],[3711,7.12],[3738,6.76],[3757,6.91],[3776,6.62],[3802,6.84],[3824,6.53],[3847,6.71],[3860,6.47],[3876,6.62],[3883,6.42],[3896,6.55],[3919,6.76],[3951,6.48],[3468,6.41],[3495,6.56],[3526,6.33],[3544,6.52],[3566,6.15],[3592,6.44],[3619,6.08],[3647,6.37],[3674,6.26],[3703,6.02],[3716,5.85],[3732,5.93],[3741,5.77],[3758,5.97],[3776,6.25],[3797,5.81],[3827,6.14],[3848,5.92],[3871,6.19],[3905,5.88],[3937,6.27],[3968,5.71],[3436,5.68],[3464,5.33],[3502,5.59],[3531,5.24],[3563,5.41],[3588,5.63],[3624,5.18],[3652,5.43],[3687,5.29],[3718,5.52],[3727,5.36],[3771,5.31],[3801,5.42],[3834,5.07],[3856,5.38],[3881,5.14],[3914,5.32],[3937,4.87],[3973,5.27],[3995,5.02],[3448,4.77],[3513,4.92],[3548,4.56],[3596,4.78],[3633,4.81],[3677,4.54],[3742,4.61],[3778,4.86],[3824,4.47],[3863,4.39],[3898,4.72],[3936,4.28],[3966,4.62],[3559,4.12],[3612,4.26],[3691,4.21],[3775,4.05],[3813,4.28],[3852,4.01],[3888,4.08],[3927,4.19],[3963,3.94],[3997,4.05],[3726,3.53],[3789,3.44],[3861,3.72],[3918,3.35],[3948,3.62],[3983,3.44],[3242,8.32],[3298,8.11],[3331,7.92],[3366,8.41],[3398,8.28],[3419,8.72],[3243,7.12],[3296,7.34],[3329,6.96],[3367,7.23],[3404,7.11],[3951,7.82],[3971,8.02],[3992,7.31],[3981,6.84],[3994,6.33],[3985,5.52],[3968,6.14],[3993,4.91],[3954,8.25],[3927,8.61],[3898,8.86],[3441,10.11],[3472,10.23],[3508,10.05],[3541,10.2],[3578,9.96],[3621,9.87],[3660,9.12],[3688,8.91],[3725,8.72],[3762,8.51],[3785,8.62],[3831,8.37],[3866,8.11]];
const scatterPoints=[].concat(farLeftPoints,upperLeftPoints,lowerLeftPoints,upperMiddlePoints,lowerMiddlePoints,upperRightPoints,lowerRightPoints,denseClusterPoints);

const ink='#111';
const labelFont='"Liberation Sans"';
const nameStyle={fontFamily:'"DejaVu Sans"',fontSize:29,fontWeight:'normal',color:'#222'};
const chart=echarts.init(document.getElementById('c'),null,{renderer:'canvas'});
chart.setOption({
  animation:false,
  backgroundColor:'#fff',
  grid:{left:90,right:0,top:7,bottom:136,containLabel:false,outerBoundsMode:'none'},
  xAxis:[{
    type:'value',min:978,max:4011,
    name:'Quantity in MW h',nameLocation:'middle',nameGap:108,
    nameTextStyle:Object.assign({padding:[0,0,0,12]},nameStyle),
    axisLine:{show:true,onZero:false,lineStyle:{color:ink,width:2.5}},
    axisTick:{show:true,length:8,customValues:quantityTicks,lineStyle:{color:ink,width:1.5}},
    axisLabel:{show:true,customValues:quantityTicks,margin:18,hideOverlap:false,showMinLabel:true,showMaxLabel:true,
      fontFamily:labelFont,fontWeight:'bold',fontSize:15,lineHeight:17,color:ink,verticalAlign:'top',
      formatter:v=>String(v).split('').join('\n')},
    splitLine:{show:false}
  },{
    type:'value',min:978,max:4011,position:'bottom',
    axisLine:{show:false,onZero:false},axisLabel:{show:false},splitLine:{show:false},
    axisTick:{show:true,length:4,customValues:quantityMinorTicks,lineStyle:{color:ink,width:1.5}}
  }],
  yAxis:[{
    type:'value',min:-0.5,max:30.45,
    name:'Price in $AU / MW h',nameLocation:'middle',nameGap:47,
    nameTextStyle:Object.assign({padding:[0,0,0,6]},nameStyle),
    axisLine:{show:true,onZero:false,lineStyle:{color:ink,width:2}},
    axisTick:{show:true,length:6,customValues:priceTicks,lineStyle:{color:ink,width:1.5}},
    axisLabel:{show:true,customValues:priceTicks,margin:13,fontFamily:labelFont,fontWeight:'bold',fontSize:16,color:ink},
    splitLine:{show:false}
  },{
    type:'value',min:-0.5,max:30.45,position:'left',
    axisLine:{show:false,onZero:false},axisLabel:{show:false},splitLine:{show:false},
    axisTick:{show:true,length:2.5,customValues:priceMinorTicks,lineStyle:{color:ink,width:1.2}}
  }],
  series:[{
    type:'scatter',data:scatterPoints,symbol:'circle',symbolSize:2,silent:true,
    itemStyle:{color:'#000',opacity:1},clip:true
  },{
    type:'line',data:fittedCurve,smooth:0.35,symbol:'none',silent:true,clip:true,z:5,
    lineStyle:{color:'#000',width:2.4}
  }]
});
</script></body></html>
